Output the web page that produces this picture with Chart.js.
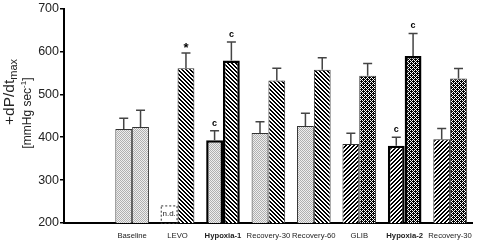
<!DOCTYPE html>
<html>
<head>
<meta charset="utf-8">
<script src="https://cdn.jsdelivr.net/npm/chart.js@4/dist/chart.umd.min.js"></script>
<style>
  html, body { margin: 0; padding: 0; background: #fff; }
  #wrap { width: 480px; height: 242px; }
</style>
</head>
<body>
<div id="wrap"><canvas id="grafik"></canvas></div>
<script>
// first slot is the empty space next to the y axis
const kategori = ['', 'Baseline', 'LEVO', 'Hypoxia-1', 'Recovery-30', 'Recovery-60', 'GLIB', 'Hypoxia-2', 'Recovery-30'];
const nilaiA = [null, 419, null, 393, 410, 426, 384, 380, 395];
const nilaiB = [null, 424, 561, 579, 532, 557, 543, 589, 537];
const semA = [0, 25, 0, 22, 26, 30, 25, 20, 25];
const semB = [0, 39, 35, 43, 29, 28, 29, 53, 23];
const tandaA = ['', '', '', 'c', '', '', '', 'c', ''];
const tandaB = ['', '', '*', 'c', '', '', '', 'c', ''];
const polaA = ['', 'titik', 'titik', 'titik', 'titik', 'titik', 'miring', 'miring', 'miring'];
const polaB = ['', 'titik', 'balik', 'balik', 'balik', 'balik', 'kotak', 'kotak', 'kotak'];
const tebal = [3, 7];
const ndTinggi = 241;
const yTicks = [200, 300, 400, 500, 600, 700];

// pixel tiles, 1 = dark
const tile = {
  titik: { n: 2, on: '#b0b0b0', off: '#eeeeee', px: [[1, 0], [0, 1]] },
  balik: { n: 4, on: '#000', off: '#fff', px: [[1, 1, 0, 0], [0, 1, 1, 0], [0, 0, 1, 1], [1, 0, 0, 1]] },
  miring: { n: 4, on: '#000', off: '#fff', px: [[0, 0, 1, 1], [0, 1, 1, 0], [1, 1, 0, 0], [1, 0, 0, 1]] },
  kotak: { n: 4, on: '#000', off: '#fff', px: [[0, 1, 0, 1], [1, 1, 1, 0], [0, 1, 0, 1], [1, 0, 1, 1]] }
};

function buatPola(jenis) {
  const t = tile[jenis];
  const c = document.createElement('canvas');
  c.width = t.n; c.height = t.n;
  const g = c.getContext('2d');
  for (let r = 0; r < t.n; r++) {
    for (let k = 0; k < t.n; k++) {
      g.fillStyle = t.px[r][k] ? t.on : t.off;
      g.fillRect(k, r, 1, 1);
    }
  }
  return document.getElementById('grafik').getContext('2d').createPattern(c, 'repeat');
}

const warnaA = polaA.map(p => p ? buatPola(p) : '#fff');
const warnaB = polaB.map(p => p ? buatPola(p) : '#fff');
const garisLebar = kategori.map((k, i) => tebal.includes(i) ? 2.5 : 1);
const garisWarna = kategori.map((k, i) => tebal.includes(i) ? '#000' : '#333');

const errorBars = {
  id: 'errorBars',
  afterDatasetsDraw(chart) {
    const ctx = chart.ctx;
    const y = chart.scales.y;
    ctx.save();
    chart.data.datasets.forEach((ds, di) => {
      const meta = chart.getDatasetMeta(di);
      meta.data.forEach((bar, i) => {
        const v = ds.data[i];
        if (v == null) return;
        const yTop = y.getPixelForValue(v);
        const yErr = y.getPixelForValue(v + ds.sem[i]);
        ctx.strokeStyle = '#444';
        ctx.lineWidth = 1.5;
        ctx.beginPath();
        ctx.moveTo(bar.x, yTop);
        ctx.lineTo(bar.x, yErr);
        ctx.moveTo(bar.x - 4.5, yErr);
        ctx.lineTo(bar.x + 4.5, yErr);
        ctx.stroke();
        const t = ds.tanda[i];
        if (t) {
          ctx.fillStyle = '#000';
          ctx.textAlign = 'center';
          ctx.textBaseline = 'alphabetic';
          ctx.font = t === '*' ? 'bold 13px "Liberation Sans"' : 'bold 9px "Liberation Sans"';
          ctx.fillText(t, bar.x, yErr - (t === '*' ? 1 : 5));
        }
      });
    });
    // n.d. box for LEVO
    const b = chart.getDatasetMeta(1).data[2];
    const w = b.width;
    const x0 = b.x - w * 1.5, x1 = b.x - w / 2;
    const y0 = y.getPixelForValue(ndTinggi), y1 = y.getPixelForValue(200);
    ctx.setLineDash([2, 2]);
    ctx.strokeStyle = '#333';
    ctx.lineWidth = 1;
    ctx.strokeRect(x0 + 0.5, y0 + 0.5, x1 - x0 - 1, y1 - y0);
    ctx.setLineDash([]);
    ctx.fillStyle = '#222';
    ctx.font = '8px "Liberation Sans"';
    ctx.textAlign = 'center';
    ctx.textBaseline = 'middle';
    ctx.fillText('n.d.', (x0 + x1) / 2, (y0 + y1) / 2);
    ctx.restore();
  }
};

const judulY = {
  id: 'judulY',
  afterDraw(chart) {
    const ctx = chart.ctx;
    ctx.save();
    ctx.fillStyle = '#222';
    ctx.textBaseline = 'alphabetic';
    ctx.textAlign = 'left';
    // line 1: +dP/dt with subscript max
    ctx.translate(14, 92);
    ctx.rotate(-Math.PI / 2);
    ctx.font = '15.5px "Liberation Sans"';
    const a = ctx.measureText('+dP/dt').width;
    ctx.font = '11px "Liberation Sans"';
    const s = ctx.measureText('max').width;
    let x = -(a + s) / 2;
    ctx.font = '15.5px "Liberation Sans"';
    ctx.fillText('+dP/dt', x, 0);
    ctx.font = '11px "Liberation Sans"';
    ctx.fillText('max', x + a, 3);
    ctx.restore();

    ctx.save();
    ctx.fillStyle = '#222';
    ctx.textBaseline = 'alphabetic';
    ctx.textAlign = 'left';
    ctx.translate(31, 113);
    ctx.rotate(-Math.PI / 2);
    ctx.font = '12px "Liberation Sans"';
    const p1 = ctx.measureText('[mmHg sec').width;
    const p3 = ctx.measureText(']').width;
    ctx.font = '8px "Liberation Sans"';
    const p2 = ctx.measureText('-1').width;
    x = -(p1 + p2 + p3) / 2;
    ctx.font = '12px "Liberation Sans"';
    ctx.fillText('[mmHg sec', x, 0);
    ctx.fillText(']', x + p1 + p2, 0);
    ctx.font = '8px "Liberation Sans"';
    ctx.fillText('-1', x + p1, -5);
    ctx.restore();
  }
};

Chart.defaults.font.family = '"Liberation Sans", Arial, sans-serif';

const grafik = new Chart(document.getElementById('grafik'), {
  type: 'bar',
  data: {
    labels: kategori,
    datasets: [
      {
        label: 'A',
        data: nilaiA,
        sem: semA,
        tanda: tandaA,
        backgroundColor: warnaA,
        borderColor: garisWarna,
        borderWidth: garisLebar,
        borderSkipped: 'bottom',
        categoryPercentage: 0.74,
        barPercentage: 1.0
      },
      {
        label: 'B',
        data: nilaiB,
        sem: semB,
        tanda: tandaB,
        backgroundColor: warnaB,
        borderColor: garisWarna,
        borderWidth: garisLebar,
        borderSkipped: 'bottom',
        categoryPercentage: 0.74,
        barPercentage: 1.0
      }
    ]
  },
  options: {
    responsive: true,
    maintainAspectRatio: false,
    animation: false,
    layout: { padding: { top: 6, right: 2, left: 0, bottom: 0 } },
    scales: {
      x: {
        grid: { display: false, drawTicks: false },
        border: { display: true, color: '#000', width: 2 },
        ticks: {
          padding: 8,
          color: '#222',
          maxRotation: 0,
          autoSkip: false,
          font: (c) => ({ size: 7.7, weight: tebal.includes(c.index) ? 'bold' : 'normal' })
        },
        afterFit(scale) { scale.height = 19; }
      },
      y: {
        min: 200,
        max: 700,
        afterBuildTicks(scale) { scale.ticks = yTicks.map(v => ({ value: v })); },
        grid: { drawOnChartArea: false, drawTicks: true, tickLength: 4, color: '#000', lineWidth: 1.5 },
        border: { display: true, color: '#000', width: 2 },
        ticks: { color: '#222', padding: 1, font: { size: 12.5 } },
        afterFit(scale) { scale.width = 64; }
      }
    },
    plugins: {
      legend: { display: false },
      tooltip: { enabled: false }
    }
  },
  plugins: [errorBars, judulY]
});
</script>
</body>
</html>
